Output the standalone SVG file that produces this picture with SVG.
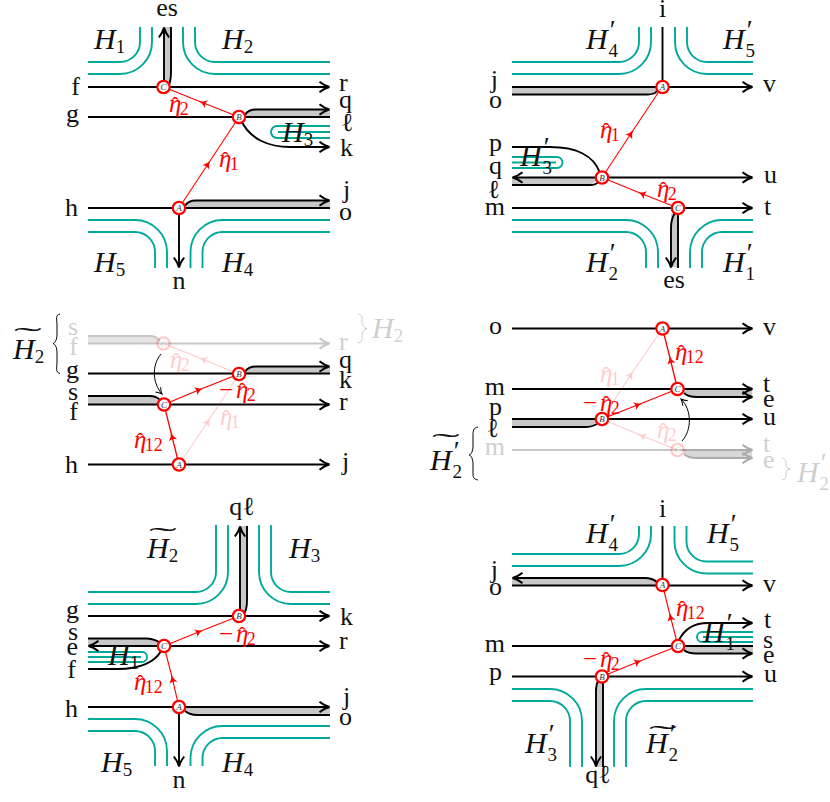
<svg xmlns="http://www.w3.org/2000/svg" width="830" height="802" viewBox="0 0 830 802">
<style>
text{font-family:"Liberation Serif","Times New Roman",serif;font-size:26px;fill:#111}
.H{font-style:italic;font-size:30px}
.s{font-style:normal;font-size:19px}
.p{font-style:normal;font-size:27px}
.e{font-style:italic;font-size:25px;fill:#f00}
.e tspan{fill:#f00;font-style:normal}
.e .s{font-size:18px}
.e .h{font-size:22px}
.n{font-style:italic;font-size:9px;text-anchor:middle;fill:#333}
.end{text-anchor:end}
.mid{text-anchor:middle}
.t{fill:none;stroke:#00a99a;stroke-width:1.9}
.b{fill:#c8c8c8;stroke:none}
.l{fill:none;stroke:#000;stroke-width:1.9}
.a{marker-end:url(#to)}
.c{fill:none;stroke:#000;stroke-width:1}
.x{fill:none;stroke:#f00;stroke-width:1.1;marker-mid:url(#rt)}
.o{fill:#fff;stroke:#f00;stroke-width:2.2}
.f{opacity:.2}
.fb{opacity:.22}
</style>
<defs>
<marker id="to" markerUnits="userSpaceOnUse" markerWidth="14" markerHeight="14" refX="10" refY="6" orient="auto" overflow="visible"><path d="M0.500,0.800Q6,5 10.500,6Q6,7 0.500,11.200" fill="none" stroke="#000" stroke-width="2"/></marker>
<marker id="tc" markerUnits="userSpaceOnUse" markerWidth="12" markerHeight="12" refX="8" refY="6" orient="auto" overflow="visible"><path d="M2,2.500Q5,5 8,6Q5,7 2,9.500" fill="none" stroke="#000" stroke-width="1"/></marker>
<marker id="rt" markerUnits="userSpaceOnUse" markerWidth="10" markerHeight="10" refX="5" refY="5" orient="auto" overflow="visible"><path d="M-1,0.800Q3,4.300 7,5Q3,5.700 -1,9.200Q1.500,5 -1,0.800Z" fill="#f00"/></marker>
</defs>

<g id="connectors">
<!-- panel 1 -->
<g>
<path class="t" d="M88,62H120A20,20 0 0 0 140,42V27M88,74H120A32,32 0 0 0 152,42V27M183,27V42A32,32 0 0 0 215,74H330M195,27V42A20,20 0 0 0 215,62H330M88,220H135A32,32 0 0 1 167,252V268M88,232H135A20,20 0 0 1 155,252V268M190.500,268V252A32,32 0 0 1 222.500,220H330M202.500,268V252A20,20 0 0 1 222.500,232H330M330,126H277A6,6 0 0 0 277,138H330M278,132H330"/>
<path class="b" d="M164,27H171V72Q171,82 168,87H164ZM245,117Q248,109.500 256,109.500H330V117ZM185,208Q188,200.500 196,200.500H330V208Z"/>
<path class="l" d="M171,27V72Q171,82 168,87M88,117H330M88,208H179"/>
<path class="l a" d="M88,87H329"/><path class="l a" d="M164,87V28"/>
<path class="l a" d="M245,115Q248,109.500 256,109.500H329"/>
<path class="l a" d="M241,120C250,140 270,147 290,147H329"/>
<path class="l" d="M179,208H330"/><path class="l a" d="M185,206Q188,200.500 196,200.500H329"/><path class="l a" d="M179,208V267"/>
<path class="x" d="M179,208L209,162.500L239,117"/><path class="x" d="M239,117L201,102L163.500,87"/>
</g>
<!-- panel 2 -->
<g>
<path class="t" d="M512,62H619A20,20 0 0 0 639,42V27M512,74H619A32,32 0 0 0 651,42V27M675,27V42A32,32 0 0 0 707,74H753M687,27V42A20,20 0 0 0 707,62H753M512,220H626A32,32 0 0 1 658,252V268M512,232H626A20,20 0 0 1 646,252V268M690,268V252A32,32 0 0 1 722,220H753M702,268V252A20,20 0 0 1 722,232H753M512,157H557A5.500,5.500 0 0 1 557,168H512M512,162.500H556"/>
<path class="b" d="M512,87H662L656,94.500H512ZM512,177.500H602L590,185H512ZM671,214Q671,220 671,226V267H678V208Z"/>
<path class="l" d="M512,87H662M512,94.500H648Q654,94.500 657,91M678,208V268M512,185H590Q596,185 598,182M512,147H550C575,147 594,155 600,173"/>
<path class="l" d="M662.500,27V87"/><path class="l a" d="M662,87H752"/>
<path class="l a" d="M602,177.500H513"/><path class="l a" d="M602,177.500H752"/>
<path class="l a" d="M512,208H752"/><path class="l a" d="M675,213Q671,219 671,228V267"/>
<path class="x" d="M602,177.500L632,132L662,87"/><path class="x" d="M678,208L640,193L602,177.500"/>
</g>
<!-- panel 3 -->
<g>
<g class="fb">
<path class="b" style="fill:#888" d="M88,336H150Q156,336 160,343H88Z"/>
<path class="l" d="M88,336H150Q156,336 160,341"/><path class="l a" d="M88,343.500H329"/>
</g>
<path class="b" d="M245,373.500Q248,366.500 256,366.500H330V373.500ZM88,396H150Q156,396 160,404H88Z"/>
<path class="l" d="M88,373.500H330M88,396H150Q156,396 160,400"/>
<path class="l a" d="M245,372Q248,366.500 256,366.500H329"/><path class="l a" d="M88,404.500H329"/><path class="l a" d="M88,464.500H329"/>
<g class="f"><path class="x" d="M179,464.500L209,420L239,374"/><path class="x" d="M239,374L201,358.500L163.500,343.500"/></g>
<path class="x" style="stroke-width:1.3" d="M179,464.500L171.500,434.500L164,404.500"/><path class="x" style="stroke-width:1.3" d="M164,404.500L201,389L239,374"/>
<path class="c" style="marker-end:url(#tc)" d="M161,354C151,366 153,384 162,394"/>
<path class="c" d="M60,314C55,315 57,319 57,325V334C57,340 55,343 53,343.500C55,344 57,347 57,353V362C57,368 55,372 60,373.500"/>
<path class="c f" d="M358,314C363,315 362,318 362,321V322C362,325 364,328 367,328.500C364,329 362,332 362,335V336C362,339 363,342 358,343"/>
</g>
<!-- panel 4 -->
<g>
<path class="b" d="M684,389H752V397H697Q688,397 684,393Z"/>
<path class="b" d="M512,419H602L590,427H512Z"/>
<path class="l a" d="M512,328.500H752"/><path class="l a" d="M512,389H752"/><path class="l a" d="M684,393Q688,397 697,397H752"/>
<path class="l a" d="M602,419H752"/><path class="l" d="M512,419H602M512,427H585Q592,427 597,424"/>
<g class="fb">
<path class="l" d="M512,450H680"/>
</g>
<g style="opacity:.32">
<path class="b" style="fill:#888" d="M684,450H752V458H697Q688,458 684,454Z"/>
<path class="l a" d="M680,450H752"/><path class="l a" d="M684,454Q688,458 697,458H752"/>
</g>
<g class="f"><path class="x" d="M602,419L632,373L662.500,328.500"/><path class="x" d="M677.500,450L640,435L602,419"/></g>
<path class="x" style="stroke-width:1.3" d="M677.500,389L670,358L662.500,328.500"/><path class="x" style="stroke-width:1.3" d="M602,419L640,404L677.500,389"/>
<path class="c" style="marker-end:url(#tc)" d="M682,441C692,430 692,410 681,399"/>
<path class="c" d="M478,427C473,428 473,431 473,436V446C473,451 471,455 469,455C471,455 473,459 473,464V472C473,477 473,479 478,480"/>
<path class="c f" d="M782,458C786,459 786,461 786,464V465C786,467 788,469 790,469C788,469 786,471 786,473V474C786,477 786,479 782,480"/>
</g>
<!-- panel 5 -->
<g>
<path class="t" d="M88,592H196A20,20 0 0 0 216,572V525M88,604H196A32,32 0 0 0 228,572V525M259,525V572A32,32 0 0 0 291,604H330M271,525V572A20,20 0 0 0 291,592H330M88,719H135A32,32 0 0 1 167,751V766M88,731H135A20,20 0 0 1 155,751V766M190.500,766V758A32,32 0 0 1 222.500,726H330M202.500,766V758A20,20 0 0 1 222.500,738H330M88,652H142A5,5 0 0 1 142,662H88M88,657H141"/>
<path class="b" d="M240,526H247V600Q247,610 244,616H240ZM88,638.500H150Q157,640 160,646H88ZM185,707H330V715H197Q190,715 185,711Z"/>
<path class="l" d="M247,526V600Q247,610 244,613M88,638.500H147Q155,639 160,643M88,669H118C140,669 155,662 161,651M88,707H179M185,711Q190,715 197,715H330"/>
<path class="l a" d="M240,616V527"/><path class="l a" d="M88,616H329"/>
<path class="l a" d="M163,646H89"/><path class="l a" d="M163,646H329"/>
<path class="l a" d="M179,707H329"/><path class="l a" d="M179,707V766"/>
<path class="x" d="M179,707L172,677L164,646"/><path class="x" d="M164,646L201,631L239,616"/>
</g>
<!-- panel 6 -->
<g>
<path class="t" d="M512,554H619A20,20 0 0 0 639,534V526M512,566H619A32,32 0 0 0 651,534V526M674.500,526V541.500A32,32 0 0 0 706.500,573.500H753M686.500,526V541.500A20,20 0 0 0 706.500,561.500H753M512,689H550A32,32 0 0 1 582,721V767M512,701H550A20,20 0 0 1 570,721V767M614,767V721A32,32 0 0 1 646,689H753M626,767V721A20,20 0 0 1 646,701H753M753,632H702A5,5 0 0 0 702,642H753M703,637H753"/>
<path class="b" d="M512,578H648Q655,578 660,582L662,585.500H512ZM684,646H753V653.500H696Q688,653 684,650ZM596,676.500H603V767H596V690Q596,683 598,680Z"/>
<path class="l" d="M662.500,526V585M512,585.500H662M512,646H753M603,676.500V767"/>
<path class="l a" d="M657,582Q652,578 645,578H513"/><path class="l a" d="M662,585.500H752"/>
<path class="l a" d="M679,640C684,630 692,623 708,623H752"/><path class="l a" d="M684,650Q688,653.500 696,653.500H752"/>
<path class="l a" d="M512,676.500H752"/><path class="l a" d="M598,681Q596,685 596,692V766"/>
<path class="x" d="M678,646L670,615L662.500,585"/><path class="x" d="M602,676.500L640,661L678,646"/>
</g>
</g>

<g id="nodes">
<g id="p1C"><circle class="o" cx="163.500" cy="87" r="6.200"/><text class="n" x="163.500" y="90">C</text></g>
<g id="p1B"><circle class="o" cx="239" cy="117" r="6.200"/><text class="n" x="239" y="120">B</text></g>
<g id="p1A"><circle class="o" cx="179" cy="208" r="6.200"/><text class="n" x="179" y="211">A</text></g>
<g id="p2A"><circle class="o" cx="662.500" cy="87" r="6.200"/><text class="n" x="662.500" y="90">A</text></g>
<g id="p2B"><circle class="o" cx="602" cy="177.500" r="6.200"/><text class="n" x="602" y="180.500">B</text></g>
<g id="p2C"><circle class="o" cx="678" cy="208" r="6.200"/><text class="n" x="678" y="211">C</text></g>
<g id="p3Cold" class="f"><circle class="o" cx="163.500" cy="343.500" r="6.200"/><text class="n" x="163.500" y="346.500">C</text></g>
<g id="p3B"><circle class="o" cx="239" cy="374" r="6.200"/><text class="n" x="239" y="377">B</text></g>
<g id="p3C"><circle class="o" cx="164" cy="404.500" r="6.200"/><text class="n" x="164" y="407.500">C</text></g>
<g id="p3A"><circle class="o" cx="179" cy="464.500" r="6.200"/><text class="n" x="179" y="467.500">A</text></g>
<g id="p4A"><circle class="o" cx="662.500" cy="328.500" r="6.200"/><text class="n" x="662.500" y="331.500">A</text></g>
<g id="p4C"><circle class="o" cx="677.500" cy="389" r="6.200"/><text class="n" x="677.500" y="392">C</text></g>
<g id="p4B"><circle class="o" cx="602" cy="419" r="6.200"/><text class="n" x="602" y="422">B</text></g>
<g id="p4Cold" class="f"><circle class="o" cx="677.500" cy="450" r="6.200"/><text class="n" x="677.500" y="453">C</text></g>
<g id="p5B"><circle class="o" cx="239" cy="616" r="6.200"/><text class="n" x="239" y="619">B</text></g>
<g id="p5C"><circle class="o" cx="164" cy="646" r="6.200"/><text class="n" x="164" y="649">C</text></g>
<g id="p5A"><circle class="o" cx="179" cy="707" r="6.200"/><text class="n" x="179" y="710">A</text></g>
<g id="p6A"><circle class="o" cx="662.500" cy="585" r="6.200"/><text class="n" x="662.500" y="588">A</text></g>
<g id="p6C"><circle class="o" cx="678" cy="646" r="6.200"/><text class="n" x="678" y="649">C</text></g>
<g id="p6B"><circle class="o" cx="602" cy="676.500" r="6.200"/><text class="n" x="602" y="679.500">B</text></g>
</g>

<g id="labels">
<!-- panel 1 -->
<text x="167" y="16" class="mid">es</text><text x="80" y="95" class="end">f</text><text x="79" y="122" class="end">g</text><text x="78" y="216" class="end">h</text>
<text x="339" y="91">r</text><text x="339" y="108">q</text><text x="341" y="131">ℓ</text><text x="340" y="156">k</text><text x="343" y="198">j</text><text x="339" y="220">o</text><text x="179" y="289" class="mid">n</text>
<text x="94" y="49" class="H">H<tspan class="s" dy="4">1</tspan></text><text x="222" y="49" class="H">H<tspan class="s" dy="4">2</tspan></text><text x="282" y="142" class="H">H<tspan class="s" dy="4">3</tspan></text><text x="94" y="272" class="H">H<tspan class="s" dy="4">5</tspan></text><text x="222" y="272" class="H">H<tspan class="s" dy="4">4</tspan></text>
<text x="169" y="112" class="e">η<tspan class="h" dx="-10">ˆ</tspan><tspan class="s" dx="1" dy="3">2</tspan></text><text x="219" y="167" class="e">η<tspan class="h" dx="-10">ˆ</tspan><tspan class="s" dx="1" dy="3">1</tspan></text>
<!-- panel 2 -->
<text x="586" y="49" class="H">H<tspan class="p" dx="2" dy="-10">′</tspan><tspan class="s" dx="-7" dy="18">4</tspan></text><text x="723" y="49" class="H">H<tspan class="p" dx="2" dy="-10">′</tspan><tspan class="s" dx="-7" dy="18">5</tspan></text><text x="520" y="166" class="H">H<tspan class="p" dx="2" dy="-10">′</tspan><tspan class="s" dx="-7" dy="18">3</tspan></text><text x="586" y="272" class="H">H<tspan class="p" dx="2" dy="-10">′</tspan><tspan class="s" dx="-7" dy="18">2</tspan></text><text x="723" y="272" class="H">H<tspan class="p" dx="2" dy="-10">′</tspan><tspan class="s" dx="-7" dy="18">1</tspan></text>
<text x="662.500" y="17" class="mid">i</text><text x="763" y="92">v</text><text x="498" y="88" class="end">j</text><text x="502" y="108" class="end">o</text><text x="502" y="151" class="end">p</text><text x="502" y="174" class="end">q</text><text x="500" y="198" class="end">ℓ</text><text x="505" y="215" class="end">m</text><text x="764" y="183">u</text><text x="764" y="215">t</text><text x="674" y="288" class="mid">es</text>
<text x="600" y="138" class="e">η<tspan class="h" dx="-10">ˆ</tspan><tspan class="s" dx="1" dy="3">1</tspan></text><text x="657" y="197" class="e">η<tspan class="h" dx="-10">ˆ</tspan><tspan class="s" dx="1" dy="3">2</tspan></text>
<!-- panel 3 -->
<g class="f"><text x="78" y="335" class="end">s</text><text x="78" y="355" class="end">f</text><text x="339" y="350">r</text><text x="372" y="338" class="H">H<tspan class="s" dy="4">2</tspan></text><text x="170" y="368" class="e">η<tspan class="h" dx="-10">ˆ</tspan><tspan class="s" dx="1" dy="3">2</tspan></text><text x="220" y="425" class="e">η<tspan class="h" dx="-10">ˆ</tspan><tspan class="s" dx="1" dy="3">1</tspan></text></g>
<text x="79" y="378" class="end">g</text><text x="78" y="400" class="end">s</text><text x="78" y="420" class="end">f</text><text x="78" y="473" class="end">h</text><text x="339" y="368">q</text><text x="339" y="388">k</text><text x="339" y="410">r</text><text x="342" y="470">j</text>
<text x="13" y="359" class="H">H<tspan class="s" dy="4">2</tspan></text><text transform="translate(14,345) scale(3.2,1)">˜</text>
<text x="219" y="398" class="e"><tspan>−</tspan><tspan dx="3" style="font-style:italic">η</tspan><tspan class="h" dx="-10">ˆ</tspan><tspan class="s" dx="1" dy="3">2</tspan></text><text x="134" y="448" class="e">η<tspan class="h" dx="-10">ˆ</tspan><tspan class="s" dx="1" dy="3">12</tspan></text>
<!-- panel 4 -->
<text x="502" y="334" class="end">o</text><text x="505" y="395" class="end">m</text><text x="502" y="415" class="end">p</text><text x="499" y="437" class="end">ℓ</text><text x="763" y="335">v</text><text x="763" y="392">t</text><text x="763" y="407">e</text><text x="763" y="425">u</text>
<g class="f"><text x="505" y="455" class="end">m</text><text x="763" y="452">t</text><text x="763" y="468">e</text><text x="797" y="482" class="H">H<tspan class="p" dx="2" dy="-10">′</tspan><tspan class="s" dx="-7" dy="18">2</tspan></text><text x="600" y="382" class="e">η<tspan class="h" dx="-10">ˆ</tspan><tspan class="s" dx="1" dy="3">1</tspan></text><text x="657" y="438" class="e">η<tspan class="h" dx="-10">ˆ</tspan><tspan class="s" dx="1" dy="3">2</tspan></text></g>
<text x="430" y="470" class="H">H<tspan class="p" dx="2" dy="-10">′</tspan><tspan class="s" dx="-7" dy="18">2</tspan></text><text transform="translate(432,451) scale(3.2,1)">˜</text>
<text x="675" y="360" class="e">η<tspan class="h" dx="-10">ˆ</tspan><tspan class="s" dx="1" dy="3">12</tspan></text><text x="583" y="411" class="e"><tspan>−</tspan><tspan dx="3" style="font-style:italic">η</tspan><tspan class="h" dx="-10">ˆ</tspan><tspan class="s" dx="1" dy="3">2</tspan></text>
<!-- panel 5 -->
<text x="242" y="515" class="mid">qℓ</text>
<text x="147" y="558" class="H">H<tspan class="s" dy="4">2</tspan></text><text transform="translate(149,545) scale(3.2,1)">˜</text><text x="289" y="558" class="H">H<tspan class="s" dy="4">3</tspan></text><text x="108" y="665" class="H">H<tspan class="s" dy="4">1</tspan></text><text x="101" y="772" class="H">H<tspan class="s" dy="4">5</tspan></text><text x="222" y="772" class="H">H<tspan class="s" dy="4">4</tspan></text>
<text x="79" y="618" class="end">g</text><text x="78" y="640" class="end">s</text><text x="78" y="655" class="end">e</text><text x="76" y="678" class="end">f</text><text x="78" y="717" class="end">h</text><text x="340" y="625">k</text><text x="339" y="649">r</text><text x="343" y="705">j</text><text x="339" y="725">o</text><text x="179" y="788" class="mid">n</text>
<text x="219" y="642" class="e"><tspan>−</tspan><tspan dx="3" style="font-style:italic">η</tspan><tspan class="h" dx="-10">ˆ</tspan><tspan class="s" dx="1" dy="3">2</tspan></text><text x="134" y="690" class="e">η<tspan class="h" dx="-10">ˆ</tspan><tspan class="s" dx="1" dy="3">12</tspan></text>
<!-- panel 6 -->
<text x="662.500" y="517" class="mid">i</text>
<text x="586" y="543" class="H">H<tspan class="p" dx="2" dy="-10">′</tspan><tspan class="s" dx="-7" dy="18">4</tspan></text><text x="707" y="543" class="H">H<tspan class="p" dx="2" dy="-10">′</tspan><tspan class="s" dx="-7" dy="18">5</tspan></text><text x="525" y="753" class="H">H<tspan class="p" dx="2" dy="-10">′</tspan><tspan class="s" dx="-7" dy="18">3</tspan></text><text x="646" y="753" class="H">H<tspan class="p" dx="2" dy="-10">′</tspan><tspan class="s" dx="-7" dy="18">2</tspan></text><text transform="translate(649,743) scale(3.2,1)">˜</text><text x="703" y="642" class="H">H<tspan class="p" dx="2" dy="-10">′</tspan><tspan class="s" dx="-7" dy="18">1</tspan></text>
<text x="498" y="578" class="end">j</text><text x="502" y="595" class="end">o</text><text x="505" y="652" class="end">m</text><text x="502" y="680" class="end">p</text><text x="763" y="592">v</text><text x="764" y="628">t</text><text x="763" y="648">s</text><text x="763" y="663">e</text><text x="764" y="682">u</text><text x="598" y="783" class="mid">qℓ</text>
<text x="676" y="616" class="e">η<tspan class="h" dx="-10">ˆ</tspan><tspan class="s" dx="1" dy="3">12</tspan></text><text x="583" y="667" class="e"><tspan>−</tspan><tspan dx="3" style="font-style:italic">η</tspan><tspan class="h" dx="-10">ˆ</tspan><tspan class="s" dx="1" dy="3">2</tspan></text>
</g>
</svg>
